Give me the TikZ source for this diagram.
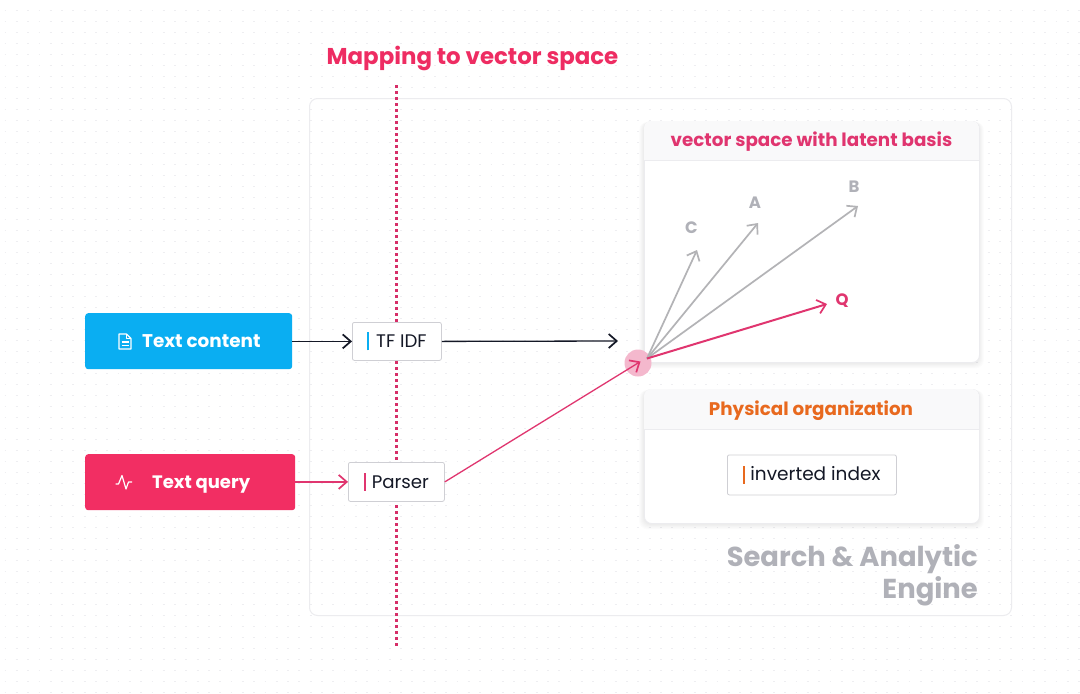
\documentclass[tikz,border=0pt]{standalone}
\usepackage{fontspec}
\setmainfont{Poppins}
\usetikzlibrary{arrows.meta,positioning}
\definecolor{cblue}{HTML}{0AAEF2}
\definecolor{cred}{HTML}{F22E63}
\definecolor{cpink}{HTML}{E0356F}
\definecolor{cmap}{HTML}{D62E68}
\definecolor{ctitle}{HTML}{EE2C62}
\definecolor{corange}{HTML}{E8691E}
\definecolor{cgrey}{HTML}{B0B1B8}
\definecolor{cvec}{HTML}{B3B3B6}
\definecolor{cink}{HTML}{141826}
\definecolor{cline}{HTML}{ECECEF}
\definecolor{cdot}{HTML}{EEEEF1}
\definecolor{chead}{HTML}{F9F9FA}
\definecolor{cbox}{HTML}{CFCFD4}
\tikzset{
  barb/.style={-{Straight Barb[length=8pt,width=14pt,line width=1.7pt]}},
  srcbox/.style={rectangle,rounded corners=3pt,anchor=north west,inner sep=0pt,text=white},
  stepbox/.style={rectangle,rounded corners=2pt,draw=cbox,line width=.8pt,fill=white,anchor=north west,inner sep=0pt,font=\fontsize{18.2}{20}\selectfont,text=cink},
  card/.style={rectangle,rounded corners=7pt,draw=cline,line width=.8pt,fill=white,anchor=north west,inner sep=0pt},
  veclabel/.style={font=\bfseries\fontsize{16.5}{18}\selectfont,text=cgrey,inner sep=0pt},
  headtext/.style={font=\bfseries\fontsize{18.3}{20}\selectfont,inner sep=0pt},
}
\newcommand{\accentbar}[2]{\textcolor{#1}{\rule[-2.5pt]{2pt}{18pt}}\hspace{#2}}
\begin{document}
\begin{tikzpicture}[x=1pt,y=-1pt]
\useasboundingbox (0,0) rectangle (1080,694);
\fill[white] (0,0) rectangle (1080,694);
% dotted background: each row is one dashed line
\foreach \j in {0,...,62}{
  \draw[cdot,line width=1.8pt,dash pattern=on 1.8pt off 9.5pt] (4.6,10.5+11.0*\j) -- (1080,10.5+11.0*\j);
}
% outer panel
\node[rectangle,rounded corners=8pt,draw=cline,line width=1pt,anchor=north west,minimum width=702pt,minimum height=517pt,inner sep=0pt] (engine) at (309,98) {};
% cards shadows
\foreach \s in {1,...,6}{
  \fill[black,opacity=.012,rounded corners=8pt] (644-\s*.8,121+1) rectangle (979+\s*.8,362+1+\s*.9);
  \fill[black,opacity=.012,rounded corners=8pt] (644-\s*.8,389+1) rectangle (979+\s*.8,523+1+\s*.9);
}
% mapping line
\coordinate (mapTop) at (396.5,85);
\coordinate (mapBottom) at (396.5,647);
\draw[cmap,line width=2.6pt,dash pattern=on 3pt off 3pt] (mapTop) -- (mapBottom);
\node[font=\bfseries\fontsize{22.9}{26}\selectfont,text=ctitle,inner sep=0pt] (title) at (472.5,58) {Mapping to vector space};
% card 1
\node[card,minimum width=335pt,minimum height=241pt] (vcard) at (644,121) {};
\begin{scope}
  \clip[rounded corners=7pt] (644,121) rectangle (979,362);
  \fill[chead] (644,121) rectangle (979,160);
\end{scope}
\draw[cline,line width=.8pt] (644,160.5) -- (979,160.5);
\node[headtext,text=cpink] (vtitle) at (811.5,141.5) {vector space with latent basis};
% card 2
\node[card,minimum width=335pt,minimum height=134pt] (pcard) at (644,389) {};
\begin{scope}
  \clip[rounded corners=7pt] (644,389) rectangle (979,523);
  \fill[chead] (644,389) rectangle (979,429);
\end{scope}
\draw[cline,line width=.8pt] (644,429.5) -- (979,429.5);
\node[headtext,text=corange] (ptitle) at (811,410.5) {Physical organization};
\node[stepbox,minimum width=169pt,minimum height=40pt,font=\fontsize{18.5}{22}\selectfont] (inv) at (727,454.5) {\raisebox{-1pt}{\textcolor{corange}{\rule[-3pt]{2pt}{18pt}}\hspace{5pt}inverted index}};
% source boxes
\node[srcbox,fill=cblue,minimum width=207pt,minimum height=56pt] (content) at (85,313) {};
\node[font=\bfseries\fontsize{18.4}{20}\selectfont,text=white,inner sep=0pt,anchor=west] (contentlabel) at (142,341.5) {Text content};
\begin{scope}[white,line width=1.1pt,line join=round]
  \draw (119,334) -- (126.5,334) -- (131,338.5) -- (131,349) -- (119,349) -- cycle;
  \draw (126.5,334) -- (126.5,338.5) -- (131,338.5);
  \draw (121.5,342) -- (128.5,342) (121.5,345.5) -- (128.5,345.5);
\end{scope}
\node[srcbox,fill=cred,minimum width=210pt,minimum height=56pt] (query) at (85,454) {};
\node[font=\bfseries\fontsize{18}{20}\selectfont,text=white,inner sep=0pt,anchor=west] (querylabel) at (152,484.5) {Text query};
\draw[white,line width=1.2pt,line join=round] (115.5,484) -- (118.5,484) -- (122,475.5) -- (126,489) -- (128.5,482) -- (132,482);
% step boxes
\node[stepbox,minimum width=89pt,minimum height=38pt] (tfidf) at (352,322) {\raisebox{-1pt}{\accentbar{cblue}{7pt}TF IDF}};
\node[stepbox,minimum width=96pt,minimum height=39pt] (parser) at (348,462) {\raisebox{-1pt}{\accentbar{cpink}{6pt}Parser}};
% vector origin
\node[circle,fill=cpink!35,minimum size=27pt,inner sep=0pt] (hub) at (638,363) {};
\coordinate (origin) at (647,358.5);
\coordinate (tipC) at (697,250);
\coordinate (tipA) at (758,223);
\coordinate (tipB) at (858,206);
\coordinate (tipQ) at (827,304);
\coordinate (hubIn) at (640.5,361.5);
\coordinate (tfEnd) at (618,341);
% vectors
\draw[barb,cvec,line width=1.7pt] (origin) -- (tipC);
\draw[barb,cvec,line width=1.7pt] (origin) -- (tipA);
\draw[barb,cvec,line width=1.7pt] (origin) -- (tipB);
\draw[barb,cpink,line width=2pt] (origin) -- (tipQ);
\node[veclabel] (lc) at (691.5,227.5) {C};
\node[veclabel] (la) at (755,202.5) {A};
\node[veclabel] (lb) at (854,186.5) {B};
\node[veclabel,text=cpink] (lq) at (842,300.5) {Q};
% connectors
\draw[barb,cink,line width=1.3pt] (content.east |- tfidf.west) -- (tfidf.west);
\draw[barb,cink,line width=1.3pt] (tfidf.east) -- (tfEnd);
\draw[barb,cpink,line width=1.3pt] (query.east |- parser.west) -- (parser.west);
\draw[barb,cpink,line width=1.3pt] (parser.east) -- (hubIn);
% engine label
\node[font=\bfseries\fontsize{27.4}{32}\selectfont,text=cgrey,align=right,anchor=north east,inner sep=0pt] (enginelabel) at (978,544.5) {Search \& Analytic\\Engine};
\end{tikzpicture}
\end{document}
